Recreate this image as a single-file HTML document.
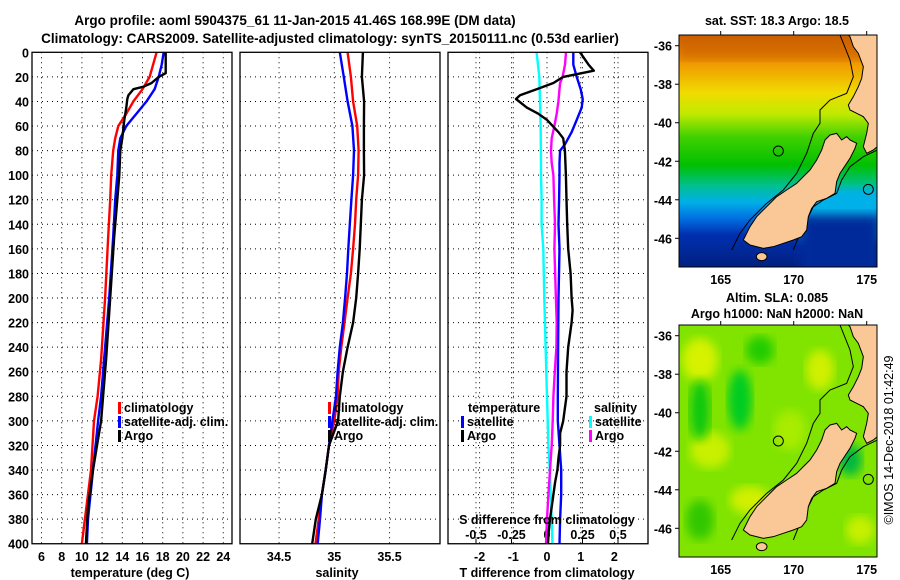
<!DOCTYPE html>
<html><head><meta charset="utf-8"><style>
body{margin:0;background:#fff}
svg{display:block;font-family:"Liberation Sans",sans-serif;font-weight:bold}
text{font-size:12.5px;fill:#000}
</style></head><body>
<svg id="c" width="900" height="580" viewBox="0 0 900 580" xmlns="http://www.w3.org/2000/svg">
<defs>
<linearGradient id="sstg" x1="0" y1="0" x2="0" y2="1">
<stop offset="0" stop-color="#cc6000"/><stop offset="0.12" stop-color="#f09800"/><stop offset="0.25" stop-color="#f0dc00"/><stop offset="0.34" stop-color="#c0ea00"/><stop offset="0.44" stop-color="#40d000"/><stop offset="0.56" stop-color="#00c000"/><stop offset="0.65" stop-color="#00c090"/><stop offset="0.72" stop-color="#00b0e8"/><stop offset="0.79" stop-color="#0070e0"/><stop offset="0.86" stop-color="#0030b0"/><stop offset="1" stop-color="#002080"/>
</linearGradient>
<clipPath id="m1c"><rect x="679" y="35" width="198" height="232"/></clipPath>
<clipPath id="m2c"><rect x="679" y="325" width="198" height="232"/></clipPath>
<filter id="bl"><feGaussianBlur stdDeviation="5"/></filter>
</defs>
<text x="295" y="25" text-anchor="middle" style="font-size:13.5px">Argo profile: aoml 5904375_61 11-Jan-2015 41.46S 168.99E (DM data)</text>
<text x="330" y="43" text-anchor="middle" style="font-size:13.5px">Climatology: CARS2009. Satellite-adjusted climatology: synTS_20150111.nc (0.53d earlier)</text>
<g id="plots"></g>
<g id="maps"></g>
</svg>
<script>
const NS="http://www.w3.org/2000/svg";
// ---- temperature panel data ----
const tDepthClim=[0,20,30,40,50,60,70,80,100,120,150,200,250,280,300,340,380,400];
const tClim=[17.4,16.7,16.0,15.1,14.4,13.6,13.3,13.1,12.9,12.8,12.6,12.3,11.9,11.55,11.2,10.9,10.3,10.0];
const tDepthSat=[0,10,20,30,40,50,60,70,80,100,120,150,200,250,280,300,340,380,400];
const tSat=[18.1,17.9,17.6,17.2,16.4,15.4,14.4,13.8,13.6,13.5,13.3,13.1,12.7,12.2,11.9,11.6,11.1,10.6,10.5];
const tDepthArgo=[0,17,20,25,28,30,35,38,45,55,70,80,100,120,150,200,250,280,300,320,340,370,400];
const tArgo=[18.3,18.3,17.6,16.9,16.1,15.1,14.6,14.5,14.4,14.2,14.0,13.8,13.7,13.5,13.2,12.8,12.4,12.1,11.9,11.5,11.1,10.6,10.4];
const tTicks=[6,8,10,12,14,16,18,20,22,24];
// ---- salinity panel data ----
const sDepth=[0,20,40,60,80,100,120,140,160,180,200,220,240,260,280,300,320,340,360,380,400];
const sClim=[35.12,35.15,35.17,35.207,35.22,35.215,35.198,35.187,35.17,35.15,35.12,35.092,35.063,35.04,35.03,35.0,34.952,34.922,34.888,34.859,34.83];
const sSat=[35.05,35.086,35.12,35.164,35.178,35.17,35.155,35.14,35.127,35.115,35.098,35.078,35.05,35.03,35.015,34.983,34.952,34.922,34.888,34.871,34.85];
const sArgo=[35.259,35.25,35.27,35.268,35.268,35.27,35.25,35.24,35.23,35.215,35.198,35.17,35.12,35.078,35.05,35.034,34.952,34.922,34.888,34.833,34.80];
const sTicks=[34.5,35,35.5];
// ---- difference panel data ----
const dDepthTA=[0,10,15,20,25,30,35,38,45,50,55,65,70,80,100,120,140,160,180,200,210,220,240,260,280,300,310,320,330,340,350,360,380,390,400];
const dTArgo=[0.98,1.23,1.39,0.48,0.19,-0.31,-0.8,-0.92,-0.6,-0.26,0,0.34,0.48,0.53,0.56,0.58,0.6,0.63,0.70,0.73,0.76,0.73,0.63,0.58,0.58,0.48,0.39,0.39,0.34,0.31,0.24,0.19,0.09,0.05,0.03];
const dDepthTS=[0,10,20,30,38,45,55,65,75,80,90,100,120,140,160,200,240,280,300,320,340,360,380,400];
const dTSat=[0.78,0.78,0.88,1.0,1.06,1.03,0.88,0.73,0.53,0.39,0.37,0.37,0.36,0.34,0.37,0.34,0.33,0.32,0.32,0.37,0.42,0.42,0.39,0.37];
const dDepthS=[0,20,40,60,80,100,120,140,160,200,240,280,300,320,340,360,380,400];
const dSSat=[-0.073,-0.054,-0.049,-0.045,-0.043,-0.042,-0.038,-0.038,-0.026,-0.019,-0.01,0,0.005,0.01,0.02,0.026,0.033,0.038];
const dDepthSA=[0,10,20,25,30,40,50,60,70,80,90,100,120,140,160,200,220,240,260,280,300,320,340,360,380,400];
const dSArgo=[0.134,0.127,0.11,0.092,0.088,0.08,0.068,0.052,0.033,0.028,0.033,0.045,0.05,0.056,0.052,0.063,0.068,0.066,0.055,0.045,0.04,0.033,0.021,0.01,0,-0.007];
const dTTicks=[-2,-1,0,1,2];
const dSTicks=[-0.5,-0.25,0,0.25,0.5];
const dSTickLabels=["-0.5","-0.25","0","0.25","0.5"];
const depthTicks=[0,20,40,60,80,100,120,140,160,180,200,220,240,260,280,300,320,340,360,380,400];
// ---- map axes ----
const lonTicks=[165,170,175];
const latTicks=[-36,-38,-40,-42,-44,-46];

const Y=d=>52.3+d*1.2286;
const XT=t=>41.5+(t-6)*10.1;
const XS=s=>334.3+(s-35)*110.5;
const XDT=v=>547+v*33.7;
const XDS=v=>547+v*142;
const LON=l=>720.7+(l-165)*14.6;
const LAT=l=>45.7+(-36-l)*19.26;

const plots=document.getElementById('plots');
function el(tag,attrs,parent){const e=document.createElementNS(NS,tag);for(const k in attrs)e.setAttribute(k,attrs[k]);(parent||plots).appendChild(e);return e;}
function txt(x,y,s,anchor,parent){const t=el('text',{x:x,y:y,'text-anchor':anchor||'middle'},parent);t.textContent=s;return t;}

function panel(name){
  const g=el('g',{});
  
  
  return g;
}
function hgrid(g,x0,x1){depthTicks.forEach(d=>{if(d>0&&d<400)el('line',{x1:x0,x2:x1,y1:Y(d),y2:Y(d),stroke:'#000','stroke-dasharray':'1,4','stroke-width':1},g);});}
function vgrid(g,x){el('line',{x1:x,x2:x,y1:Y(0),y2:Y(400),stroke:'#000','stroke-dasharray':'1,4','stroke-width':1},g);}
function frame(g,x0,x1,name){const r=el('rect',{x:x0,y:Y(0),width:x1-x0,height:Y(400)-Y(0),fill:'none',stroke:'#000','stroke-width':1.3},g);}
function line(g,xs,ds,fx,color,name,w){
  const pts=xs.map((v,i)=>fx(v).toFixed(1)+','+Y(ds[i]).toFixed(1)).join(' ');
  const p=el('polyline',{points:pts,fill:'none',stroke:color,'stroke-width':w||2.4,'stroke-linejoin':'round'},g);
  
  
}
function legend(g,x,y,color,label){
  const m=el('rect',{x:x,y:y-10,width:3,height:12,fill:color},g);
  
  
  const t=txt(x+6,y,label,'start',g);
  
  
}

// Panel 1: temperature
const g1=panel('temperature-panel');
hgrid(g1,32,232);
tTicks.forEach(t=>{vgrid(g1,XT(t));const l=txt(XT(t),561,String(t),'middle',g1);});
depthTicks.forEach(d=>{const l=txt(29,Y(d)+5,String(d),'end',g1);});
line(g1,tClim,tDepthClim,XT,'#ff0000','climatology-temperature-line');
line(g1,tSat,tDepthSat,XT,'#0000ff','satellite-temperature-line');
line(g1,tArgo,tDepthArgo,XT,'#000000','argo-temperature-line');
frame(g1,32,232,'temperature-plot-frame');
legend(g1,118,412,'#ff0000','climatology');
legend(g1,118,426,'#0000ff','satellite-adj. clim.');
legend(g1,118,440,'#000000','Argo');
const xt1=txt(130,577,'temperature (deg C)','middle',g1);

// Panel 2: salinity
const g2=panel('salinity-panel');
hgrid(g2,240,440);
sTicks.forEach(s=>{vgrid(g2,XS(s));const l=txt(XS(s),561,String(s),'middle',g2);});
line(g2,sClim,sDepth,XS,'#ff0000','climatology-salinity-line');
line(g2,sSat,sDepth,XS,'#0000ff','satellite-salinity-line');
line(g2,sArgo,sDepth,XS,'#000000','argo-salinity-line');
frame(g2,240,440,'salinity-plot-frame');
legend(g2,328,412,'#ff0000','climatology');
legend(g2,328,426,'#0000ff','satellite-adj. clim.');
legend(g2,328,440,'#000000','Argo');
const xt2=txt(337,577,'salinity','middle',g2);

// Panel 3: differences
const g3=panel('difference-panel');
hgrid(g3,448,648);
dTTicks.forEach(v=>{vgrid(g3,XDT(v));const l=txt(XDT(v),561,String(v),'middle',g3);});
dSTicks.forEach((v,i)=>{if(v!==0)vgrid(g3,XDS(v));el('line',{x1:XDS(v),x2:XDS(v),y1:Y(400),y2:Y(400)-5,stroke:'#000'},g3);const l=txt(XDS(v),539,dSTickLabels[i],'middle',g3);});
line(g3,dSSat,dDepthS,XDS,'#00ffff','salinity-satellite-diff-line');
line(g3,dSArgo,dDepthSA,XDS,'#ff00ff','salinity-argo-diff-line');
line(g3,dTSat,dDepthTS,XDT,'#0000ff','temperature-satellite-diff-line');
line(g3,dTArgo,dDepthTA,XDT,'#000000','temperature-argo-diff-line');
frame(g3,448,648,'difference-plot-frame');
const lt=txt(468,412,'temperature','start',g3);
legend(g3,461,426,'#0000ff','satellite');
legend(g3,461,440,'#000000','Argo');
const ls=txt(594,412,'salinity','start',g3);
legend(g3,589,426,'#00ffff','satellite');
legend(g3,589,440,'#ff00ff','Argo');
const st=txt(547,524,'S difference from climatology','middle',g3);
const xt3=txt(547,577,'T difference from climatology','middle',g3);

// Maps
const maps=document.getElementById('maps');
const landSouth="540,405 560,400 575,420 590,410 600,420 620,430 615,445 600,475 590,490 570,520 560,545 555,580 530,595 500,605 485,625 475,650 470,690 455,710 430,720 400,730 370,740 340,745 300,735 280,720 290,700 300,680 320,650 350,620 380,590 410,570 440,550 460,530 480,510 500,480 515,450 525,420";
const landNorth="595,105 682,105 682,440 670,450 650,460 640,440 650,400 655,370 640,350 620,340 600,330 595,315 610,290 625,260 635,235 640,200 625,160 610,140 600,110";
const isobath="570,105 600,180 610,230 590,280 540,300 510,330 510,370 490,400 470,460 440,520 400,570 350,610 300,660 270,700 245,750";
const isobath2="682,450 640,470 600,500 575,540 560,580 520,600 490,620 470,660 450,700 430,750";
function drawMap(oy,fill,name,clip){
  const g=el('g',{'clip-path':'url(#'+clip+')'},maps);
  
  
  const bg=el('rect',{x:679,y:35+oy,width:198,height:232,fill:fill},g);
  
  
  return g;
}
const m1=drawMap(0,'url(#sstg)','sst-map','m1c');
el('rect',{x:800,y:190,width:80,height:50,fill:'#00b0e8',filter:'url(#bl)'},m1);
el('rect',{x:800,y:215,width:80,height:60,fill:'#002a9a',filter:'url(#bl)'},m1);
el('rect',{x:679,y:35,width:198,height:25,fill:'#c85a00',opacity:0.5,filter:'url(#bl)'},m1);
const m2=drawMap(290,'#80e400','sla-map','m2c');
[[700,360,18,22,'#d6f200'],[740,400,12,30,'#00cc20'],[710,450,20,18,'#c8f000'],[760,350,14,14,'#20cc00'],[700,410,10,30,'#10c810'],[820,370,14,20,'#d0f000'],[850,460,12,16,'#00b840'],[750,500,20,14,'#d0f000'],[860,530,14,14,'#c8f000'],[700,520,14,20,'#30c800'],[790,430,16,20,'#a8ec00']].forEach(b=>{el('ellipse',{cx:b[0],cy:b[1],rx:b[2],ry:b[3],fill:b[4],filter:'url(#bl)'},m2);});
[[0,m1],[290,m2]].forEach(([oy,g])=>{
  const t=el('g',{transform:'translate(650,'+oy+') scale(0.33333)'},g);
  const ib=el('polyline',{points:isobath,fill:'none',stroke:'#000','stroke-width':3},t);
  
  
  el('polyline',{points:isobath2,fill:'none',stroke:'#000','stroke-width':3},t);
  const s=el('polygon',{points:landSouth,fill:'#fac896',stroke:'#000','stroke-width':3},t);
  
  
  const n=el('polygon',{points:landNorth,fill:'#fac896',stroke:'#000','stroke-width':3},t);
  
  
  el('ellipse',{cx:335,cy:770,rx:16,ry:12,fill:'#fac896',stroke:'#000','stroke-width':3},t);
  const a=el('circle',{cx:385,cy:453,r:15,fill:'none',stroke:'#000','stroke-width':3},t);
  
  
  el('circle',{cx:655,cy:568,r:15,fill:'none',stroke:'#000','stroke-width':3},t);
});
[0,290].forEach(oy=>{
  const fr=el('rect',{x:679,y:35+oy,width:198,height:232,fill:'none',stroke:'#000','stroke-width':1},maps);
  
  
  lonTicks.forEach(l=>{el('line',{x1:LON(l),x2:LON(l),y1:35+oy,y2:31+oy,stroke:'#000'},maps);const t=txt(LON(l),284+oy,String(l),'middle',maps);});
  latTicks.forEach(l=>{el('line',{x1:679,x2:675,y1:LAT(l)+oy,y2:LAT(l)+oy,stroke:'#000'},maps);const t=txt(672,LAT(l)+oy+5,String(l),'end',maps);});
});
const mt1=txt(777,25,'sat. SST: 18.3 Argo: 18.5','middle',maps);
const mt2=txt(777,302,'Altim. SLA: 0.085','middle',maps);
const mt3=txt(777,318,'Argo h1000: NaN h2000: NaN','middle',maps);
const cp=txt(0,0,'©IMOS 14-Dec-2018 01:42:49','middle',maps);
cp.setAttribute('transform','translate(893,440) rotate(-90)');
cp.setAttribute('style','font-weight:normal;font-size:12.5px');


</script>
</body></html>
